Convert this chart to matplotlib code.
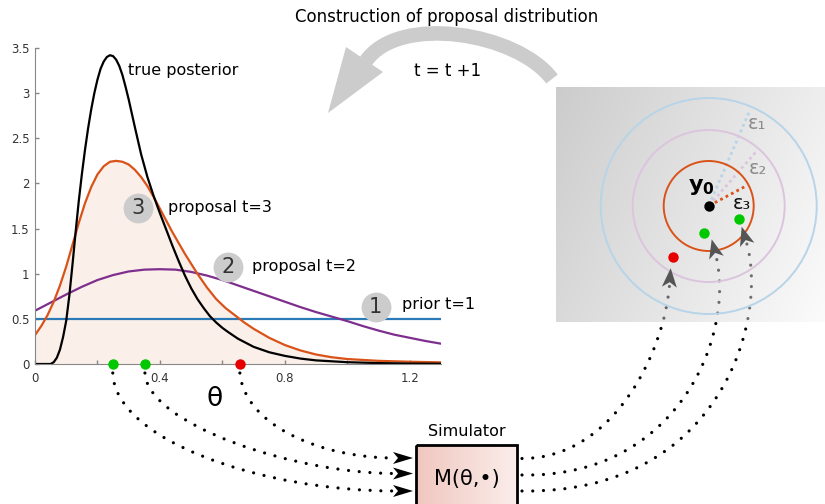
import numpy as np
import matplotlib
matplotlib.use('Agg')
import matplotlib.pyplot as plt
from matplotlib.patches import Circle, Rectangle, Polygon, PathPatch
from matplotlib.path import Path

# densities over theta
theta_post = [0.0, 0.04, 0.05, 0.06, 0.07, 0.08, 0.09, 0.10, 0.11, 0.12, 0.13, 0.14,
              0.15, 0.16, 0.17, 0.18, 0.19, 0.20, 0.21, 0.22, 0.23, 0.24, 0.25, 0.26,
              0.27, 0.28, 0.29, 0.30, 0.32, 0.34, 0.36, 0.38, 0.40, 0.42, 0.44, 0.46,
              0.48, 0.50, 0.52, 0.54, 0.56, 0.58, 0.60, 0.62, 0.65, 0.70, 0.75, 0.80,
              0.85, 0.90, 1.0, 1.1, 1.2, 1.3]
post = [0.0, 0.0, 0.0, 0.02, 0.07, 0.16, 0.30, 0.48, 0.76, 1.10, 1.46, 1.80,
        2.10, 2.37, 2.61, 2.82, 3.00, 3.15, 3.27, 3.35, 3.40, 3.42, 3.41, 3.37,
        3.30, 3.20, 3.07, 2.93, 2.62, 2.32, 2.07, 1.86, 1.67, 1.49, 1.31, 1.14,
        0.98, 0.84, 0.72, 0.62, 0.53, 0.46, 0.40, 0.35, 0.28, 0.19, 0.13, 0.09,
        0.06, 0.04, 0.02, 0.01, 0.005, 0.003]

theta_t3 = [0.0, 0.02, 0.04, 0.06, 0.08, 0.10, 0.12, 0.14, 0.16, 0.18, 0.20, 0.22,
            0.24, 0.26, 0.28, 0.30, 0.32, 0.34, 0.36, 0.38, 0.40, 0.42, 0.44, 0.46,
            0.48, 0.50, 0.52, 0.55, 0.58, 0.61, 0.64, 0.67, 0.70, 0.75, 0.80, 0.85,
            0.90, 0.95, 1.0, 1.1, 1.2, 1.3]
proposal_t3 = [0.32, 0.42, 0.54, 0.69, 0.87, 1.08, 1.32, 1.56, 1.78, 1.96, 2.10, 2.19,
               2.24, 2.25, 2.24, 2.21, 2.15, 2.07, 1.97, 1.85, 1.72, 1.59, 1.46, 1.34,
               1.22, 1.11, 1.00, 0.85, 0.72, 0.62, 0.54, 0.46, 0.39, 0.29, 0.21, 0.15,
               0.105, 0.075, 0.055, 0.035, 0.025, 0.018]

theta_t2 = [0.0, 0.05, 0.10, 0.15, 0.20, 0.25, 0.30, 0.35, 0.40, 0.45, 0.50, 0.55,
            0.60, 0.65, 0.70, 0.75, 0.80, 0.85, 0.90, 0.95, 1.00, 1.05, 1.10, 1.15,
            1.20, 1.25, 1.30]
proposal_t2 = [0.59, 0.68, 0.77, 0.855, 0.93, 0.985, 1.025, 1.045, 1.05, 1.045, 1.02, 0.98,
               0.93, 0.87, 0.81, 0.75, 0.69, 0.63, 0.575, 0.525, 0.475, 0.42, 0.37, 0.325,
               0.29, 0.255, 0.225]

theta_prior = [0.0, 1.3]
prior = [0.5, 0.5]

curve_labels = ['true posterior', 'proposal t=3', 'proposal t=2', 'prior t=1']
label_pos = [(0.298, 3.25), (0.427, 1.735), (0.695, 1.08), (1.174, 0.658)]
badges = ['3', '2', '1']
badge_pos = [(0.331, 1.726), (0.618, 1.076), (1.091, 0.632)]

# drawn parameters and their simulated outputs, relative to y0
theta_samples = [0.249, 0.352, 0.656]
sample_colors = ['#00c800', '#00c800', '#e60000']
sim_out = [(0.303, -0.133), (-0.044, -0.273), (-0.36, -0.507)]

eps = [1.08, 0.76, 0.45]
eps_names = ['ε₁', 'ε₂', 'ε₃']
eps_colors = ['#b7d4e8', '#dcc4de', '#d95319']
eps_angles = [66.7, 48.9, 28.2]
eps_label_pos = [(0.48, 0.827), (0.496, 0.377), (0.33, 0.02)]
eps_text_colors = ['#8c8c8c', '#8c8c8c', '#111111']

W, H = 825, 504
fig = plt.figure(figsize=(W / 100, H / 100), dpi=100)


def bez(p0, p1, p2, p3):
    return Path([p0, p1, p2, p3], [Path.MOVETO, Path.CURVE4, Path.CURVE4, Path.CURVE4])


def head(axis, tip, d, length, half, notch, color, **kw):
    d = np.asarray(d, float)
    d = d / np.hypot(*d)
    n = np.array([-d[1], d[0]])
    tip = np.asarray(tip, float)
    back = tip - length * d
    pts = [tip, back + half * n, tip - (length - notch) * d, back - half * n]
    axis.add_patch(Polygon(pts, closed=True, fc=color, ec='none', **kw))


# ---- density plot
ax = fig.add_axes([35 / W, 1 - 364 / H, 406 / W, 316 / H])
ax.fill_between(theta_t3, proposal_t3, color='#fbefe9', lw=0)
ax.plot(theta_prior, prior, color='#2a7ab8', lw=1.6)
ax.plot(theta_t2, proposal_t2, color='#7e2f8e', lw=1.6)
ax.plot(theta_t3, proposal_t3, color='#d95319', lw=1.6)
ax.plot(theta_post, post, color='k', lw=1.6)
ax.set_xlim(0, 1.3)
ax.set_ylim(0, 3.5)
ax.set_xticks([0, 0.2, 0.4, 0.6, 0.8, 1.0, 1.2])
ax.set_xticklabels(['0', '', '0.4', '', '0.8', '', '1.2'])
ax.set_yticks([0, 0.5, 1, 1.5, 2, 2.5, 3, 3.5])
ax.set_yticklabels(['0', '0.5', '1', '1.5', '2', '2.5', '3', '3.5'])
ax.tick_params(direction='in', length=3, width=1, color='#888888',
               labelsize=8.5, labelcolor='#333333')
ax.tick_params(axis='x', pad=6)
ax.tick_params(axis='y', pad=4)
for s in ['top', 'right']:
    ax.spines[s].set_visible(False)
for s in ['left', 'bottom']:
    ax.spines[s].set_color('#888888')
ax.patch.set_alpha(0)

for txt, (x, y) in zip(curve_labels, label_pos):
    ax.text(x, y, txt, fontsize=11.5, ha='left', va='center', clip_on=False)
for txt, (x, y) in zip(badges, badge_pos):
    ax.plot(x, y, 'o', ms=21.5, color='#cccccc', mec='none', zorder=4)
    ax.text(x, y, txt, fontsize=15, color='#333333', ha='center', va='center', zorder=5)
for th, c in zip(theta_samples, sample_colors):
    ax.plot(th, 0, 'o', ms=7.5, color=c, mec='none', clip_on=False, zorder=6)

# ---- overlay in pixel units for the diagram parts
ov = fig.add_axes([0, 0, 1, 1], zorder=1)
ov.axis('off')
ov.set_xlim(0, W)
ov.set_ylim(H, 0)

# ---- output space panel
ext = (-1.527, 1.163, -1.16, 1.19)
pn = fig.add_axes([556 / W, 1 - 322 / H, 269 / W, 235 / H], zorder=2)
pn.axis('off')
gx, gy = np.meshgrid(np.linspace(0, 1, 200), np.linspace(0, 1, 200))
shade = 0.80 + 0.185 * (0.72 * gx + 0.28 * gy)
alpha = 0.5
base = 1 - (1 - shade) / alpha
img = np.dstack([base, base, base, np.full_like(base, alpha)])
pn.imshow(img, extent=ext, origin='upper', aspect='auto', interpolation='bilinear', zorder=0)
for r, c, ang in zip(eps, eps_colors, eps_angles):
    pn.add_patch(Circle((0, 0), r, fill=False, ec=c, lw=1.4, zorder=2))
    a = np.deg2rad(ang)
    pn.plot([0.07 * np.cos(a), 0.97 * r * np.cos(a)], [0.07 * np.sin(a), 0.97 * r * np.sin(a)],
            color=c, lw=2, ls=(0, (1, 1.2)), zorder=2)
for txt, (x, y), c in zip(eps_names, eps_label_pos, eps_text_colors):
    pn.text(x, y, txt, fontsize=14, color=c, ha='center', va='center', zorder=3)
pn.plot(0, 0, 'o', ms=7.5, color='k', mec='none', zorder=4)
pn.text(-0.07, 0.193, r'$\mathbf{y}_\mathbf{0}$', fontsize=16, ha='center', va='center', zorder=4)
for (x, y), c in zip(sim_out, sample_colors):
    pn.plot(x, y, 'o', ms=7.5, color=c, mec='none', zorder=4)
pn.set_xlim(ext[0], ext[1])
pn.set_ylim(ext[2], ext[3])

to_ov = ov.transData.inverted()
dotted = dict(fill=False, ec='k', lw=2.3, linestyle=(0, (0.01, 3.35)), capstyle='round')

# theta samples -> simulator
left_end_y = [491, 473.5, 458]
left_handles = [(2, 67, 133), (2, 50, 103), (5, 53, 73)]
for th, ye, (dx, h1, h2) in zip(theta_samples, left_end_y, left_handles):
    x0, y0 = to_ov.transform(ax.transData.transform((th, 0)))
    y0 += 9
    p = bez((x0, y0), (x0 + dx, y0 + h1), (395 - h2, ye), (395, ye))
    ov.add_patch(PathPatch(p, zorder=3, **dotted))
    head(ov, (413, ye), (1, 0), 20, 6, 5, 'k', zorder=4)

# simulator -> output space
right_start_y = [491, 475, 458.5]
right_p1 = [(200, 3), (158, 3), (93, 0)]
tip_off = [(2.7, 7.4), (7.4, 6.0), (-2.0, 11.5)]
tip_dir = [(-5, -16.6), (-4.5, -17.4), (1.2, -17)]
tip_l2 = [78, 80, 65]
for pt, ys, (ax1, ay1), off, d, l2 in zip(sim_out, right_start_y, right_p1, tip_off, tip_dir, tip_l2):
    px, py = to_ov.transform(pn.transData.transform(pt))
    tip = np.array([px + off[0], py + off[1]])
    dd = np.asarray(d, float) / np.hypot(*d)
    bse = tip - 16 * dd
    p = bez((522, ys), (522 + ax1, ys + ay1), tuple(bse - l2 * dd), tuple(bse))
    ov.add_patch(PathPatch(p, zorder=3, **dotted))
    head(pn, tip, d, 19, 7.5, 5, '#555555', transform=ov.transData, clip_on=False, zorder=6)

# simulator box
grad = np.linspace(0, 1, 100)
box_rgb = np.dstack([0.94 + 0.045 * grad, 0.78 + 0.15 * grad, 0.75 + 0.17 * grad])
ov.imshow(box_rgb, extent=(416, 517, 506, 445), aspect='auto', zorder=2)
ov.add_patch(Rectangle((416, 445), 101, 70, fill=False, ec='k', lw=2, zorder=4))
ov.text(466.5, 479, 'M(θ,•)', fontsize=15, ha='center', va='center', zorder=5)
ov.text(467, 431.5, 'Simulator', fontsize=11.5, ha='center', va='center')
ov.text(215, 399, 'θ', fontsize=19, ha='center', va='center')

# iteration arrow
ov.add_patch(PathPatch(bez((552, 79), (517.2, 32.6), (399.1, 13.4), (366, 61)),
                       fill=False, ec='#cccccc', lw=10.5, capstyle='butt', zorder=1))
ov.add_patch(Polygon([(328, 113), (346, 47), (383, 72)], closed=True, fc='#cccccc', ec='none', zorder=1))
ov.text(446.5, 17, 'Construction of proposal distribution', fontsize=12, ha='center', va='center')
ov.text(447.5, 71, 't = t +1', fontsize=12, ha='center', va='center')

ov.set_xlim(0, W)
ov.set_ylim(H, 0)

fig.savefig('out.png', dpi=100)
